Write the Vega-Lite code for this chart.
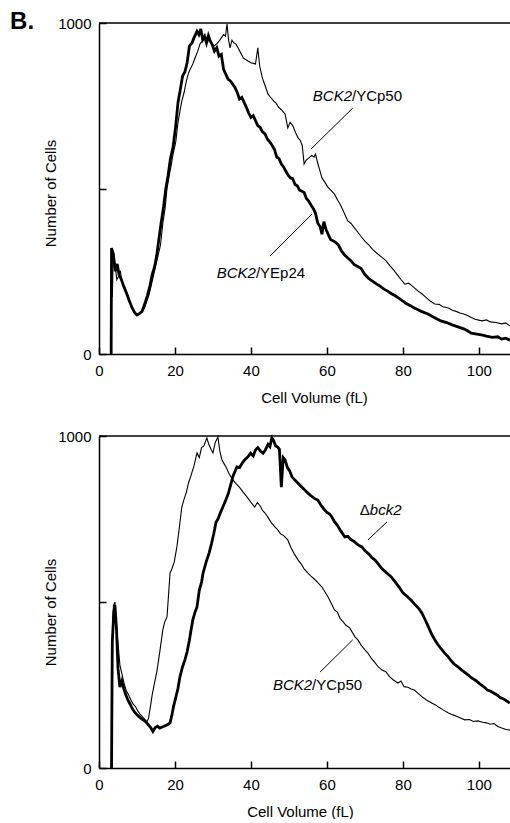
{
  "$schema": "https://vega.github.io/schema/vega-lite/v6.json",
  "background": "white",
  "padding": {"left": 10, "top": 9, "right": 0, "bottom": 0},
  "spacing": 24,
  "config": {
    "font": "Liberation Sans",
    "view": {"stroke": null},
    "axis": {"grid": false, "domainColor": "black", "domainWidth": 1.5, "tickColor": "black", "tickWidth": 1.5, "labelColor": "black", "titleColor": "black", "labelFontSize": 15, "titleFontSize": 15, "titleFontWeight": "normal", "labelFlush": false, "format": "d"}
  },
  "datasets": {
    "topThick": [{"v":3.2,"n":0},{"v":3.3,"n":320},{"v":3.8,"n":300},{"v":4.3,"n":250},{"v":4.8,"n":272},{"v":5.3,"n":238},{"v":5.8,"n":228},{"v":6.5,"n":205},{"v":7.2,"n":185},{"v":8,"n":160},{"v":8.7,"n":140},{"v":9.4,"n":125},{"v":10,"n":118},{"v":10.6,"n":122},{"v":11.3,"n":128},{"v":12,"n":150},{"v":12.7,"n":175},{"v":13.4,"n":205},{"v":14,"n":240},{"v":14.6,"n":262},{"v":15.2,"n":298},{"v":15.8,"n":350},{"v":16.4,"n":400},{"v":17,"n":445},{"v":17.6,"n":500},{"v":18.2,"n":540},{"v":18.8,"n":590},{"v":19.5,"n":625},{"v":20.2,"n":690},{"v":20.8,"n":760},{"v":21.5,"n":805},{"v":22,"n":840},{"v":22.6,"n":852},{"v":23.2,"n":880},{"v":23.8,"n":930},{"v":24.5,"n":940},{"v":25,"n":955},{"v":25.8,"n":975},{"v":26.3,"n":965},{"v":26.8,"n":982},{"v":27.3,"n":950},{"v":27.8,"n":960},{"v":28.3,"n":940},{"v":28.8,"n":962},{"v":29.3,"n":945},{"v":29.8,"n":935},{"v":30.4,"n":915},{"v":31,"n":925},{"v":31.6,"n":900},{"v":32.2,"n":905},{"v":32.8,"n":860},{"v":33.4,"n":845},{"v":34,"n":830},{"v":34.6,"n":825},{"v":35.2,"n":815},{"v":35.8,"n":805},{"v":36.4,"n":790},{"v":37,"n":770},{"v":37.6,"n":775},{"v":38.2,"n":760},{"v":38.8,"n":745},{"v":39.4,"n":728},{"v":40,"n":715},{"v":40.6,"n":720},{"v":41.2,"n":705},{"v":41.8,"n":690},{"v":42.4,"n":685},{"v":43,"n":672},{"v":43.7,"n":665},{"v":44.4,"n":648},{"v":45,"n":640},{"v":45.6,"n":630},{"v":46.2,"n":618},{"v":46.8,"n":595},{"v":47.4,"n":590},{"v":48,"n":574},{"v":48.6,"n":565},{"v":49.2,"n":552},{"v":49.8,"n":540},{"v":50.4,"n":532},{"v":51,"n":530},{"v":51.6,"n":512},{"v":52.2,"n":508},{"v":52.8,"n":495},{"v":53.4,"n":492},{"v":54,"n":488},{"v":54.6,"n":470},{"v":55.2,"n":462},{"v":55.8,"n":450},{"v":56.4,"n":440},{"v":57,"n":425},{"v":57.6,"n":395},{"v":58.2,"n":385},{"v":58.7,"n":362},{"v":59.2,"n":400},{"v":59.8,"n":375},{"v":60.4,"n":360},{"v":61,"n":345},{"v":61.6,"n":342},{"v":62.2,"n":338},{"v":63,"n":330},{"v":63.8,"n":312},{"v":64.6,"n":300},{"v":65.5,"n":290},{"v":66.3,"n":282},{"v":67.2,"n":270},{"v":68,"n":265},{"v":69,"n":258},{"v":70,"n":240},{"v":71,"n":228},{"v":72,"n":220},{"v":73,"n":212},{"v":74,"n":205},{"v":75,"n":196},{"v":76,"n":190},{"v":77,"n":182},{"v":78,"n":176},{"v":79,"n":168},{"v":80,"n":160},{"v":81,"n":152},{"v":82,"n":146},{"v":83,"n":139},{"v":84,"n":134},{"v":85,"n":128},{"v":86.6,"n":121},{"v":88,"n":112},{"v":89,"n":106},{"v":90,"n":100},{"v":91.5,"n":95},{"v":93,"n":88},{"v":94.5,"n":82},{"v":96,"n":76},{"v":97,"n":70},{"v":98,"n":63},{"v":99.5,"n":60},{"v":101,"n":57},{"v":102,"n":54},{"v":103.5,"n":50},{"v":105,"n":52},{"v":106,"n":45},{"v":107,"n":48},{"v":108.2,"n":42}],
    "topThin": [{"v":3.1,"n":0},{"v":3.2,"n":170},{"v":3.5,"n":175},{"v":3.8,"n":310},{"v":4.2,"n":270},{"v":4.7,"n":225},{"v":5.2,"n":235},{"v":5.6,"n":252},{"v":6,"n":220},{"v":6.6,"n":205},{"v":7.2,"n":190},{"v":7.8,"n":170},{"v":8.4,"n":150},{"v":9,"n":132},{"v":9.6,"n":124},{"v":10.2,"n":120},{"v":10.8,"n":124},{"v":11.4,"n":130},{"v":12,"n":140},{"v":12.6,"n":160},{"v":13.2,"n":180},{"v":13.8,"n":210},{"v":14.4,"n":240},{"v":15,"n":270},{"v":15.6,"n":300},{"v":16.2,"n":330},{"v":16.8,"n":395},{"v":17.4,"n":440},{"v":17.9,"n":501},{"v":18.5,"n":540},{"v":19,"n":570},{"v":19.5,"n":604},{"v":20.2,"n":640},{"v":20.8,"n":700},{"v":21.4,"n":740},{"v":21.8,"n":764},{"v":22.4,"n":790},{"v":23,"n":825},{"v":23.6,"n":850},{"v":24.2,"n":865},{"v":24.7,"n":876},{"v":25.3,"n":895},{"v":26,"n":915},{"v":26.6,"n":937},{"v":27.2,"n":945},{"v":27.8,"n":950},{"v":28.4,"n":955},{"v":29,"n":945},{"v":29.6,"n":940},{"v":30.2,"n":930},{"v":31,"n":937},{"v":31.6,"n":945},{"v":32.2,"n":955},{"v":32.8,"n":965},{"v":33.3,"n":960},{"v":33.7,"n":997},{"v":34.1,"n":950},{"v":34.5,"n":925},{"v":35,"n":948},{"v":35.5,"n":940},{"v":36,"n":937},{"v":36.6,"n":925},{"v":37.2,"n":912},{"v":38,"n":894},{"v":38.6,"n":890},{"v":39.2,"n":885},{"v":40,"n":880},{"v":40.6,"n":878},{"v":41.2,"n":876},{"v":41.8,"n":925},{"v":42.3,"n":870},{"v":43,"n":834},{"v":43.6,"n":815},{"v":44.5,"n":785},{"v":45.2,"n":775},{"v":46,"n":764},{"v":46.6,"n":758},{"v":47.3,"n":745},{"v":48,"n":738},{"v":48.6,"n":730},{"v":49,"n":725},{"v":49.7,"n":683},{"v":50.3,"n":700},{"v":51,"n":690},{"v":51.7,"n":670},{"v":52.4,"n":653},{"v":53,"n":645},{"v":53.5,"n":630},{"v":54,"n":574},{"v":54.5,"n":585},{"v":55.2,"n":592},{"v":56,"n":600},{"v":56.6,"n":595},{"v":57,"n":604},{"v":57.5,"n":580},{"v":58,"n":560},{"v":58.7,"n":532},{"v":59.4,"n":520},{"v":60.2,"n":505},{"v":61,"n":495},{"v":62,"n":483},{"v":62.8,"n":465},{"v":63.6,"n":450},{"v":64.4,"n":430},{"v":65.5,"n":402},{"v":66.3,"n":395},{"v":67.2,"n":382},{"v":68,"n":370},{"v":69,"n":355},{"v":70,"n":341},{"v":71,"n":330},{"v":72,"n":316},{"v":73.4,"n":302},{"v":74.5,"n":292},{"v":75.5,"n":282},{"v":76.5,"n":268},{"v":77.5,"n":255},{"v":78.5,"n":240},{"v":79.5,"n":225},{"v":80.5,"n":211},{"v":81.5,"n":214},{"v":82.5,"n":205},{"v":84,"n":190},{"v":85,"n":182},{"v":86,"n":172},{"v":87.2,"n":160},{"v":88.4,"n":151},{"v":89.5,"n":150},{"v":90.5,"n":143},{"v":92,"n":139},{"v":93,"n":132},{"v":94.2,"n":128},{"v":95,"n":124},{"v":96,"n":121},{"v":97,"n":116},{"v":98,"n":110},{"v":99,"n":105},{"v":100.8,"n":100},{"v":102,"n":103},{"v":103,"n":97},{"v":104.5,"n":95},{"v":106,"n":91},{"v":107,"n":94},{"v":108.2,"n":85}],
    "botThin": [{"v":3.3,"n":0},{"v":3.4,"n":350},{"v":3.8,"n":490},{"v":4.2,"n":500},{"v":4.6,"n":420},{"v":5,"n":376},{"v":5.5,"n":310},{"v":6,"n":285},{"v":6.6,"n":255},{"v":7.2,"n":232},{"v":7.8,"n":220},{"v":8.4,"n":205},{"v":9,"n":192},{"v":9.6,"n":185},{"v":10.2,"n":172},{"v":10.8,"n":162},{"v":11.4,"n":155},{"v":12,"n":147},{"v":12.6,"n":140},{"v":13,"n":148},{"v":13.4,"n":175},{"v":14,"n":220},{"v":14.6,"n":255},{"v":15.3,"n":295},{"v":16,"n":350},{"v":16.8,"n":416},{"v":17.3,"n":440},{"v":17.9,"n":455},{"v":18.3,"n":520},{"v":18.7,"n":587},{"v":19.2,"n":600},{"v":19.8,"n":620},{"v":20.5,"n":666},{"v":21.1,"n":720},{"v":21.8,"n":786},{"v":22.4,"n":810},{"v":23,"n":830},{"v":23.6,"n":860},{"v":24.2,"n":880},{"v":25,"n":910},{"v":25.8,"n":949},{"v":26.4,"n":935},{"v":27,"n":965},{"v":27.6,"n":970},{"v":28.4,"n":994},{"v":28.9,"n":975},{"v":29.5,"n":960},{"v":30,"n":949},{"v":30.6,"n":980},{"v":31.3,"n":997},{"v":31.8,"n":955},{"v":32.3,"n":930},{"v":32.8,"n":919},{"v":33.5,"n":905},{"v":34.3,"n":885},{"v":35.3,"n":867},{"v":36.2,"n":855},{"v":37,"n":845},{"v":38,"n":830},{"v":39,"n":816},{"v":40,"n":800},{"v":41,"n":786},{"v":41.7,"n":800},{"v":42.4,"n":790},{"v":43.1,"n":775},{"v":43.7,"n":768},{"v":44.5,"n":755},{"v":45.3,"n":740},{"v":46.3,"n":726},{"v":47,"n":718},{"v":47.8,"n":705},{"v":48.6,"n":700},{"v":49.7,"n":687},{"v":50.5,"n":665},{"v":51.4,"n":645},{"v":52.4,"n":627},{"v":53.2,"n":615},{"v":54,"n":600},{"v":55,"n":587},{"v":55.8,"n":578},{"v":56.6,"n":570},{"v":57.5,"n":560},{"v":58.7,"n":545},{"v":59.5,"n":530},{"v":60.3,"n":515},{"v":61.2,"n":495},{"v":62,"n":476},{"v":62.7,"n":470},{"v":63.5,"n":450},{"v":64.3,"n":440},{"v":65,"n":430},{"v":66,"n":422},{"v":67.4,"n":395},{"v":68.2,"n":385},{"v":69,"n":370},{"v":70,"n":356},{"v":70.8,"n":346},{"v":71.7,"n":330},{"v":72.6,"n":318},{"v":73.5,"n":305},{"v":74.5,"n":295},{"v":75.5,"n":290},{"v":76.5,"n":275},{"v":77.5,"n":265},{"v":78.7,"n":256},{"v":79.5,"n":262},{"v":80.3,"n":245},{"v":81.3,"n":243},{"v":82.2,"n":238},{"v":83,"n":235},{"v":84,"n":225},{"v":85,"n":215},{"v":86.2,"n":205},{"v":87.6,"n":196},{"v":88.6,"n":190},{"v":89.6,"n":182},{"v":90.6,"n":175},{"v":92,"n":166},{"v":93.2,"n":160},{"v":94.3,"n":155},{"v":95.3,"n":150},{"v":96.3,"n":145},{"v":97.5,"n":146},{"v":98.6,"n":140},{"v":99.7,"n":142},{"v":101,"n":138},{"v":102,"n":136},{"v":103,"n":132},{"v":104,"n":134},{"v":105,"n":125},{"v":106.2,"n":120},{"v":107.2,"n":116},{"v":108.2,"n":114}],
    "botThick": [{"v":3.3,"n":0},{"v":3.5,"n":380},{"v":3.9,"n":470},{"v":4.2,"n":490},{"v":4.6,"n":420},{"v":5,"n":300},{"v":5.5,"n":244},{"v":6,"n":262},{"v":6.5,"n":240},{"v":7,"n":222},{"v":7.6,"n":205},{"v":8.2,"n":192},{"v":8.8,"n":178},{"v":9.4,"n":168},{"v":10,"n":160},{"v":10.6,"n":154},{"v":11.2,"n":148},{"v":11.8,"n":144},{"v":12.4,"n":138},{"v":13,"n":130},{"v":13.6,"n":122},{"v":14.2,"n":110},{"v":14.8,"n":122},{"v":15.4,"n":126},{"v":16,"n":120},{"v":16.8,"n":124},{"v":17.4,"n":127},{"v":18,"n":130},{"v":18.7,"n":136},{"v":19.2,"n":160},{"v":19.6,"n":184},{"v":20.2,"n":212},{"v":20.8,"n":240},{"v":21.3,"n":274},{"v":22,"n":305},{"v":22.6,"n":325},{"v":23.2,"n":350},{"v":23.8,"n":385},{"v":24.3,"n":420},{"v":24.7,"n":446},{"v":25.3,"n":470},{"v":25.8,"n":485},{"v":26.4,"n":535},{"v":27,"n":560},{"v":27.4,"n":587},{"v":28.2,"n":620},{"v":29,"n":648},{"v":29.6,"n":675},{"v":30.2,"n":705},{"v":30.8,"n":740},{"v":31.4,"n":752},{"v":32,"n":770},{"v":32.6,"n":786},{"v":33.3,"n":805},{"v":34,"n":825},{"v":34.5,"n":846},{"v":35.3,"n":880},{"v":36.3,"n":907},{"v":37,"n":905},{"v":37.8,"n":920},{"v":38.5,"n":930},{"v":39.2,"n":937},{"v":39.9,"n":948},{"v":40.6,"n":940},{"v":41.2,"n":958},{"v":41.8,"n":965},{"v":42.5,"n":955},{"v":43.2,"n":948},{"v":43.8,"n":958},{"v":44.5,"n":975},{"v":45,"n":968},{"v":45.5,"n":994},{"v":46,"n":985},{"v":46.5,"n":970},{"v":47,"n":967},{"v":47.5,"n":960},{"v":48,"n":846},{"v":48.5,"n":935},{"v":49,"n":928},{"v":49.6,"n":905},{"v":50.2,"n":895},{"v":50.8,"n":877},{"v":51.5,"n":868},{"v":52.2,"n":860},{"v":52.9,"n":852},{"v":53.5,"n":845},{"v":54.2,"n":837},{"v":55,"n":828},{"v":55.8,"n":820},{"v":56.7,"n":812},{"v":57.6,"n":807},{"v":58.4,"n":792},{"v":59.2,"n":780},{"v":60,"n":770},{"v":60.7,"n":765},{"v":61.3,"n":756},{"v":62,"n":742},{"v":62.8,"n":730},{"v":63.6,"n":715},{"v":64.2,"n":705},{"v":64.7,"n":696},{"v":65.5,"n":698},{"v":66.3,"n":688},{"v":67.2,"n":682},{"v":68.2,"n":672},{"v":69.2,"n":666},{"v":70,"n":655},{"v":71,"n":645},{"v":71.8,"n":634},{"v":72.6,"n":627},{"v":73.5,"n":615},{"v":74.5,"n":600},{"v":75.5,"n":590},{"v":76.3,"n":582},{"v":77,"n":575},{"v":78,"n":560},{"v":79,"n":545},{"v":80,"n":528},{"v":81.3,"n":515},{"v":82.2,"n":505},{"v":83.2,"n":492},{"v":84.2,"n":480},{"v":85,"n":467},{"v":85.8,"n":448},{"v":86.6,"n":428},{"v":87.5,"n":405},{"v":88.4,"n":386},{"v":89.2,"n":372},{"v":90,"n":360},{"v":91,"n":346},{"v":92,"n":334},{"v":92.8,"n":322},{"v":93.6,"n":312},{"v":94.5,"n":305},{"v":95.5,"n":295},{"v":96.3,"n":288},{"v":97.2,"n":280},{"v":98,"n":272},{"v":99,"n":265},{"v":99.8,"n":258},{"v":100.6,"n":250},{"v":101.4,"n":244},{"v":102.2,"n":235},{"v":103,"n":232},{"v":104,"n":225},{"v":104.8,"n":220},{"v":105.6,"n":212},{"v":106.5,"n":208},{"v":107.3,"n":202},{"v":108.2,"n":196}],
    "topLabels": [{"ip":"BCK2","ps":"/YCp50","pp":"","is":"","v":66.6,"n":779},{"ip":"BCK2","ps":"/YEp24","pp":"","is":"","v":41.3,"n":245}],
    "topLeaders": [{"v":66.8,"n":743,"v2":55.8,"n2":619},{"v":45.0,"n":296,"v2":56.1,"n2":423}],
    "botLabels": [{"ip":"BCK2","ps":"/YCp50","pp":"","is":"","v":56.1,"n":250},{"ip":"","ps":"","pp":"Δ","is":"bck2","v":71.3,"n":777}],
    "botLeaders": [{"v":70.8,"n":687,"v2":75.8,"n2":741},{"v":58.2,"n":289,"v2":66.8,"n2":386}],
    "frame": [{"v":0,"n":1000,"v2":108.2}],
    "panelTag": [{"tag":"B.","v":-23.4,"n":982}]
  },
  "vconcat": [
    {
      "width": 411,
      "height": 331,
      "encoding": {
        "x": {"field": "v", "type": "quantitative", "scale": {"domain": [0, 108.2], "nice": false, "zero": false},
              "axis": {"values": [0, 20, 40, 60, 80, 100], "tickSize": -7, "labelPadding": 16, "title": "Cell Volume (fL)", "titleX": 215, "titlePadding": 12}},
        "y": {"field": "n", "type": "quantitative", "scale": {"domain": [0, 1000], "nice": false},
              "axis": {"values": [0, 500, 1000], "labelExpr": "datum.value == 500 ? '' : datum.label", "tickSize": -7, "labelPadding": 15, "title": "Number of Cells", "titleX": -49, "titleY": 170, "titleBaseline": "middle"}}
      },
      "layer": [
        {"data": {"name": "topThin"}, "mark": {"type": "line", "color": "black", "strokeWidth": 1.1}},
        {"data": {"name": "topThick"}, "mark": {"type": "line", "color": "black", "strokeWidth": 2.8}},
        {"data": {"name": "frame"}, "mark": {"type": "rule", "color": "black", "strokeWidth": 1.5}, "encoding": {"x2": {"field": "v2"}}},
        {"data": {"name": "topLeaders"}, "mark": {"type": "rule", "color": "black", "strokeWidth": 1}, "encoding": {"x2": {"field": "v2"}, "y2": {"field": "n2"}}},
        {"data": {"name": "topLabels"}, "mark": {"type": "text", "align": "right", "baseline": "middle", "fontSize": 15, "fontStyle": "italic", "color": "black"}, "encoding": {"text": {"field": "ip"}}},
        {"data": {"name": "topLabels"}, "mark": {"type": "text", "align": "left", "baseline": "middle", "fontSize": 15, "color": "black"}, "encoding": {"text": {"field": "ps"}}},
        {"data": {"name": "panelTag"}, "mark": {"type": "text", "align": "left", "baseline": "alphabetic", "fontSize": 24, "fontWeight": "bold", "color": "black"}, "encoding": {"text": {"field": "tag"}}}
      ]
    },
    {
      "width": 411,
      "height": 332,
      "encoding": {
        "x": {"field": "v", "type": "quantitative", "scale": {"domain": [0, 108.2], "nice": false, "zero": false},
              "axis": {"values": [0, 20, 40, 60, 80, 100], "tickSize": -7, "labelPadding": 16, "title": "Cell Volume (fL)", "titleX": 201, "titlePadding": 12}},
        "y": {"field": "n", "type": "quantitative", "scale": {"domain": [0, 1000], "nice": false},
              "axis": {"values": [0, 500, 1000], "labelExpr": "datum.value == 500 ? '' : datum.label", "tickSize": -7, "labelPadding": 15, "title": "Number of Cells", "titleX": -49, "titleY": 176, "titleBaseline": "middle"}}
      },
      "layer": [
        {"data": {"name": "botThin"}, "mark": {"type": "line", "color": "black", "strokeWidth": 1.1}},
        {"data": {"name": "botThick"}, "mark": {"type": "line", "color": "black", "strokeWidth": 2.8}},
        {"data": {"name": "frame"}, "mark": {"type": "rule", "color": "black", "strokeWidth": 1.5}, "encoding": {"x2": {"field": "v2"}}},
        {"data": {"name": "botLeaders"}, "mark": {"type": "rule", "color": "black", "strokeWidth": 1}, "encoding": {"x2": {"field": "v2"}, "y2": {"field": "n2"}}},
        {"data": {"name": "botLabels"}, "mark": {"type": "text", "align": "right", "baseline": "middle", "fontSize": 15, "fontStyle": "italic", "color": "black"}, "encoding": {"text": {"field": "ip"}}},
        {"data": {"name": "botLabels"}, "mark": {"type": "text", "align": "left", "baseline": "middle", "fontSize": 15, "color": "black"}, "encoding": {"text": {"field": "ps"}}},
        {"data": {"name": "botLabels"}, "mark": {"type": "text", "align": "right", "baseline": "middle", "fontSize": 15, "color": "black"}, "encoding": {"text": {"field": "pp"}}},
        {"data": {"name": "botLabels"}, "mark": {"type": "text", "align": "left", "baseline": "middle", "fontSize": 15, "fontStyle": "italic", "color": "black"}, "encoding": {"text": {"field": "is"}}}
      ]
    }
  ]
}
